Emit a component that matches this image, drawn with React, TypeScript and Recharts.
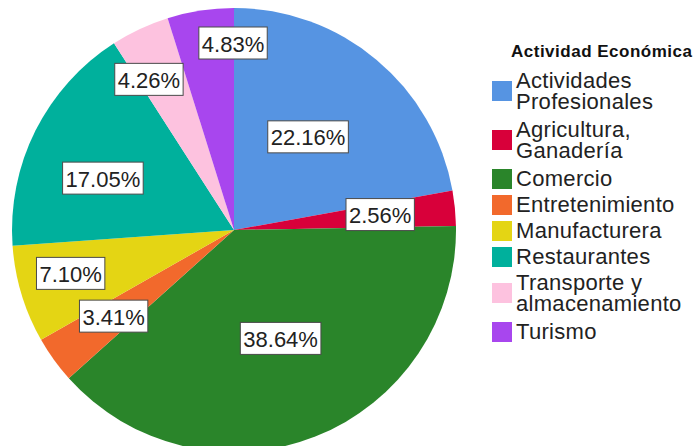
import React from 'react';
import { PieChart, Pie, Cell, Legend } from 'recharts';

const categories = [
  'Actividades Profesionales',
  'Agricultura, Ganadería',
  'Comercio',
  'Entretenimiento',
  'Manufacturera',
  'Restaurantes',
  'Transporte y almacenamiento',
  'Turismo'
];
const shares = [22.16, 2.56, 38.64, 3.41, 7.1, 17.05, 4.26, 4.83];
const colors = ['#5694e2', '#d8003a', '#2a852a', '#f2692c', '#e4d514', '#00b09c', '#fdc2df', '#a846ee'];

// label placement (distance from centre, angular nudge in degrees, clockwise)
const labelRadius = [119, 147, 118, 148, 169, 141, 173, 187];
const labelShift = [-1.4, -0.4, -1.8, 0.2, 2.0, -5.0, -4.4, 8.4];

const data = categories.map((name, i) => ({ name, value: shares[i], color: colors[i] }));

const RAD = Math.PI / 180;
const LABEL_FONT = 22;

function textWidth(s: string) {
  let w = 0;
  for (const ch of s) {
    if (ch === '.') w += 0.278;
    else if (ch === '%') w += 0.889;
    else w += 0.556;
  }
  return w * LABEL_FONT;
}

const renderLabel = (props: any) => {
  const { cx, cy, midAngle, index, value } = props;
  const angle = midAngle - labelShift[index];
  const r = labelRadius[index];
  const x = cx + r * Math.cos(-angle * RAD);
  const y = cy + r * Math.sin(-angle * RAD);
  const text = `${Number(value).toFixed(2)}%`;
  const w = textWidth(text) + 6;
  const h = 32;
  return (
    <g key={`lbl-${index}`}>
      <rect x={x - w / 2} y={y - h / 2} width={w} height={h} fill="#ffffff" stroke="#4a4a4a" strokeWidth={1} />
      <text
        x={x}
        y={y + 1}
        textAnchor="middle"
        dominantBaseline="central"
        fontSize={LABEL_FONT}
        fontFamily="'Liberation Sans', Arial, sans-serif"
        fill="#222"
      >
        {text}
      </text>
    </g>
  );
};

const renderLegend = () => (
  <div style={{ fontFamily: "'Liberation Sans', Arial, sans-serif", color: '#222' }}>
    <div style={{ fontWeight: 'bold', fontSize: 17, letterSpacing: 0.5, color: '#111', lineHeight: '20px', marginLeft: 19, marginBottom: 8 }}>
      Actividad Económica
    </div>
    {data.map((d) => (
      <div key={d.name} style={{ display: 'flex', alignItems: 'center', marginBottom: d.name.length > 16 ? 7 : 5 }}>
        <div style={{ width: 20, height: 20, background: d.color, flexShrink: 0, marginRight: 4 }} />
        <div style={{ fontSize: LABEL_FONT, lineHeight: '21px', letterSpacing: 0.3, width: 180 }}>{d.name}</div>
      </div>
    ))}
  </div>
);

export default function App() {
  return (
    <div style={{ position: 'absolute', left: 0, top: 0, background: '#fff' }}>
      <PieChart width={696} height={446} margin={{ top: 0, right: 0, bottom: 0, left: 0 }}>
        <Pie
          data={data}
          dataKey="value"
          nameKey="name"
          cx={234}
          cy={230}
          outerRadius={222}
          startAngle={90}
          endAngle={-270}
          stroke="none"
          labelLine={false}
          label={renderLabel}
          isAnimationActive={false}
        >
          {data.map((entry, index) => (
            <Cell key={`cell-${index}`} fill={entry.color} stroke="none" />
          ))}
        </Pie>
        <Legend
          layout="vertical"
          align="right"
          verticalAlign="top"
          content={renderLegend}
          wrapperStyle={{ position: 'absolute', left: 492, top: 42, width: 204 }}
        />
      </PieChart>
    </div>
  );
}
